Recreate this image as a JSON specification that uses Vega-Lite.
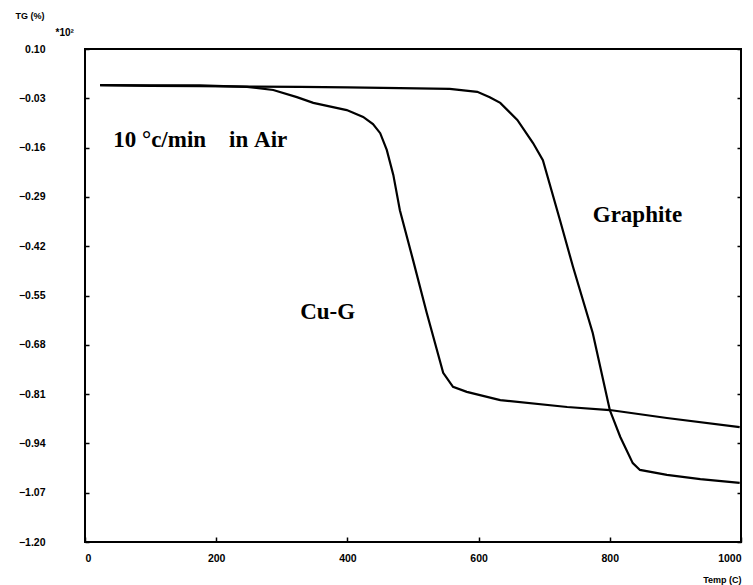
{
  "$schema": "https://vega.github.io/schema/vega-lite/v6.json",
  "width": 656,
  "height": 493,
  "autosize": {"type": "none"},
  "padding": {"left": 85, "top": 49, "right": 12, "bottom": 43},
  "background": "white",
  "config": {
    "view": {"stroke": "black", "strokeWidth": 2},
    "axis": {"labelFont": "Liberation Sans", "labelFontWeight": "bold", "labelFontSize": 10.5, "labelColor": "black", "titleFont": "Liberation Sans", "titleFontWeight": "bold", "titleFontSize": 9, "titleColor": "black", "grid": false, "domain": false, "tickColor": "black", "tickWidth": 1.5}
  },
  "datasets": {
    "curves": [
      {"temp": 23, "value": 0.005, "series": "Graphite"},
      {"temp": 100, "value": 0.003, "series": "Graphite"},
      {"temp": 175, "value": 0.002, "series": "Graphite"},
      {"temp": 250, "value": 0.001, "series": "Graphite"},
      {"temp": 328, "value": 0.0, "series": "Graphite"},
      {"temp": 400, "value": -0.001, "series": "Graphite"},
      {"temp": 480, "value": -0.003, "series": "Graphite"},
      {"temp": 556, "value": -0.005, "series": "Graphite"},
      {"temp": 598, "value": -0.013, "series": "Graphite"},
      {"temp": 617, "value": -0.027, "series": "Graphite"},
      {"temp": 633, "value": -0.042, "series": "Graphite"},
      {"temp": 659, "value": -0.087, "series": "Graphite"},
      {"temp": 683, "value": -0.148, "series": "Graphite"},
      {"temp": 698, "value": -0.193, "series": "Graphite"},
      {"temp": 724, "value": -0.351, "series": "Graphite"},
      {"temp": 744, "value": -0.475, "series": "Graphite"},
      {"temp": 774, "value": -0.649, "series": "Graphite"},
      {"temp": 800, "value": -0.852, "series": "Graphite"},
      {"temp": 816, "value": -0.923, "series": "Graphite"},
      {"temp": 835, "value": -0.992, "series": "Graphite"},
      {"temp": 846, "value": -1.01, "series": "Graphite"},
      {"temp": 887, "value": -1.023, "series": "Graphite"},
      {"temp": 938, "value": -1.034, "series": "Graphite"},
      {"temp": 998, "value": -1.044, "series": "Graphite"},
      {"temp": 23, "value": 0.005, "series": "Cu-G"},
      {"temp": 100, "value": 0.004, "series": "Cu-G"},
      {"temp": 175, "value": 0.004, "series": "Cu-G"},
      {"temp": 247, "value": 0.0, "series": "Cu-G"},
      {"temp": 287, "value": -0.008, "series": "Cu-G"},
      {"temp": 323, "value": -0.027, "series": "Cu-G"},
      {"temp": 348, "value": -0.042, "series": "Cu-G"},
      {"temp": 399, "value": -0.061, "series": "Cu-G"},
      {"temp": 424, "value": -0.079, "series": "Cu-G"},
      {"temp": 439, "value": -0.098, "series": "Cu-G"},
      {"temp": 450, "value": -0.122, "series": "Cu-G"},
      {"temp": 460, "value": -0.166, "series": "Cu-G"},
      {"temp": 470, "value": -0.232, "series": "Cu-G"},
      {"temp": 480, "value": -0.325, "series": "Cu-G"},
      {"temp": 500, "value": -0.456, "series": "Cu-G"},
      {"temp": 521, "value": -0.596, "series": "Cu-G"},
      {"temp": 546, "value": -0.754, "series": "Cu-G"},
      {"temp": 561, "value": -0.791, "series": "Cu-G"},
      {"temp": 582, "value": -0.804, "series": "Cu-G"},
      {"temp": 633, "value": -0.826, "series": "Cu-G"},
      {"temp": 735, "value": -0.844, "series": "Cu-G"},
      {"temp": 800, "value": -0.852, "series": "Cu-G"},
      {"temp": 887, "value": -0.873, "series": "Cu-G"},
      {"temp": 998, "value": -0.897, "series": "Cu-G"}
    ],
    "labels": [
      {"temp": 43, "value": -0.14, "label": "10\u00a0°c/min\u00a0\u00a0\u00a0\u00a0in\u00a0Air"},
      {"temp": 328, "value": -0.594, "label": "Cu-G"},
      {"temp": 774, "value": -0.338, "label": "Graphite"}
    ]
  },
  "layer": [
    {
      "data": {"name": "curves"},
      "mark": {"type": "line", "color": "black", "strokeWidth": 2.2},
      "encoding": {
        "x": {"field": "temp", "type": "quantitative", "scale": {"domain": [0, 1000], "nice": false, "zero": false},
          "axis": {"orient": "bottom", "values": [0, 200, 400, 600, 800, 1000], "format": "d", "tickSize": -5, "labelPadding": 16, "title": "Temp (C)", "titleAnchor": "end", "titleAlign": "right", "titleX": 656, "titleY": 33}},
        "y": {"field": "value", "type": "quantitative", "scale": {"domain": [-1.2, 0.1], "nice": false, "zero": false},
          "axis": {"orient": "left", "values": [0.1, -0.03, -0.16, -0.29, -0.42, -0.55, -0.68, -0.81, -0.94, -1.07, -1.2], "labelExpr": "format(datum.value, '.2f')", "tickSize": -4, "labelPadding": 44, "title": "TG (%)", "titleAngle": 0, "titleAlign": "left", "titleX": -70, "titleY": -29}},
        "detail": {"field": "series", "type": "nominal"}
      }
    },
    {
      "data": {"name": "curves"},
      "mark": {"type": "point", "opacity": 0},
      "encoding": {
        "x": {"field": "temp", "type": "quantitative"},
        "y": {"field": "value", "type": "quantitative",
          "axis": {"orient": "right", "values": [0.1, -0.03, -0.16, -0.29, -0.42, -0.55, -0.68, -0.81, -0.94, -1.07, -1.2], "labels": false, "tickSize": -4, "title": "*10²", "titleAngle": 0, "titleAlign": "left", "titleBaseline": "middle", "titleX": -686, "titleY": -17, "titleFontSize": 10}}
      }
    },
    {
      "data": {"name": "labels"},
      "mark": {"type": "text", "font": "Liberation Serif", "fontWeight": "bold", "fontSize": 23, "color": "black", "baseline": "middle", "align": "left"},
      "encoding": {
        "x": {"field": "temp", "type": "quantitative"},
        "y": {"field": "value", "type": "quantitative", "axis": null},
        "text": {"field": "label"}
      }
    }
  ],
  "resolve": {"axis": {"y": "independent"}}
}
